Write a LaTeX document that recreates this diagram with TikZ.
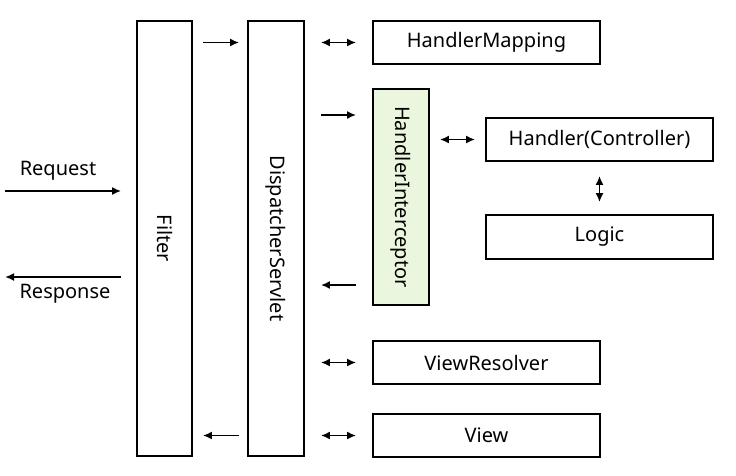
\documentclass[tikz,border=0pt]{standalone}
\usepackage{fontspec}
\setmainfont{Noto Sans}
\usetikzlibrary{arrows.meta}

\definecolor{interfill}{RGB}{235,246,222}

\begin{document}
\begin{tikzpicture}[
  txt/.style={font=\fontsize{20}{24}\selectfont},
  box/.style={shape = rectangle, draw=black, line width=1.8pt, fill=white, inner sep=0pt, txt},
  arr/.style={line width=1.8pt, -{Latex[length=9pt,width=8pt]}},
  darr/.style={line width=1.8pt, {Latex[length=9pt,width=8pt]}-{Latex[length=9pt,width=8pt]}}
]
\useasboundingbox (0pt,0pt) rectangle (736pt,-475pt);
% columns
\node[box, minimum width=55pt, minimum height=435pt] (filter) at (164.5pt,-238.5pt) {\rotatebox{-90}{Filter}};
\node[box, minimum width=56pt, minimum height=435pt] (disp) at (276pt,-238.5pt) {\rotatebox{-90}{DispatcherServlet}};
\node[box, minimum width=56pt, minimum height=216pt, fill=interfill] (inter) at (401pt,-197pt) {\rotatebox{-90}{HandlerInterceptor}};
% boxes
\node[box, minimum width=227pt, minimum height=43pt] (mapping) at (486.5pt,-42.5pt) {HandlerMapping};
\node[box, minimum width=227pt, minimum height=43pt] (handler) at (599.5pt,-139.5pt) {Handler(Controller)};
\node[box, minimum width=227pt, minimum height=44pt] (logic) at (599.5pt,-237pt) {Logic};
\node[box, minimum width=227pt, minimum height=43pt] (resolver) at (486.5pt,-362.5pt) {ViewResolver};
\node[box, minimum width=227pt, minimum height=43pt] (view) at (486.5pt,-435.5pt) {View};
% request / response
\coordinate (req) at (5pt,-191pt);
\coordinate (resp) at (5pt,-277pt);
\node[txt] (reqlabel) at (58pt,-171pt) {Request};
\node[txt] (resplabel) at (65pt,-294pt) {Response};
\draw[arr, shorten >=15pt] (req) -- (filter.west |- req);
\draw[arr, shorten <=15pt] (filter.west |- resp) -- (resp);
% flow
\draw[arr, shorten <=10pt, shorten >=8pt] (filter.east |- mapping) -- (disp.west |- mapping);
\draw[darr, shorten <=16pt, shorten >=16pt] (disp.east |- mapping) -- (mapping.west);
\draw[arr, shorten <=16pt, shorten >=16pt] (disp.east |- 0,-115pt) -- (inter.west |- 0,-115pt);
\draw[darr, shorten <=10pt, shorten >=10pt] (inter.east |- handler) -- (handler.west);
\draw[darr, shorten <=14pt, shorten >=12pt] (handler.south) -- (logic.north);
\draw[arr, shorten <=16pt, shorten >=16pt] (inter.west |- 0,-285pt) -- (disp.east |- 0,-285pt);
\draw[darr, shorten <=16pt, shorten >=16pt] (disp.east |- resolver) -- (resolver.west);
\draw[darr, shorten <=16pt, shorten >=16pt] (disp.east |- view) -- (view.west);
\draw[arr, shorten <=8pt, shorten >=10pt] (disp.west |- view) -- (filter.east |- view);
\end{tikzpicture}
\end{document}
